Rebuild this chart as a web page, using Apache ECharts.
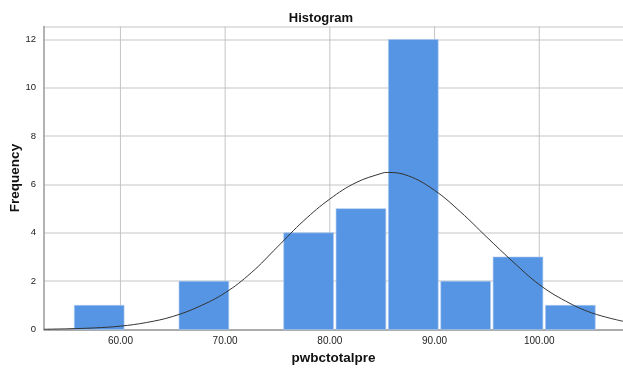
<!DOCTYPE html>
<html>
<head>
<meta charset="utf-8">
<script src="https://cdn.jsdelivr.net/npm/echarts@6/dist/echarts.min.js"></script>
<style>html,body{margin:0;padding:0;background:#fff}#c{width:623px;height:370px}</style>
</head>
<body>
<div id="c"></div>
<script>
// Histogram bins (start value of each 5-wide bin) and frequencies
const binStarts = [55.5, 60.5, 65.5, 70.5, 75.5, 80.5, 85.5, 90.5, 95.5, 100.5];
const binWidth = 5;
const counts = [1, 0, 2, 0, 4, 5, 12, 2, 3, 1];
// Normal curve points
const curveX = [52.7, 55, 57.5, 60, 62.5, 65, 67.5, 70, 72.5, 75, 77.5, 80, 82.5, 85, 85.5, 87.5, 90, 92.5, 95, 97.5, 100, 102.5, 105, 108];
const curveY = [0.01, 0.03, 0.065, 0.14, 0.29, 0.54, 0.95, 1.52, 2.35, 3.42, 4.5, 5.4, 6.08, 6.47, 6.5, 6.36, 5.76, 4.86, 3.82, 2.8, 1.86, 1.18, 0.69, 0.34];
const xTicks = [60, 70, 80, 90, 100];

const font = "'Liberation Sans', Arial, sans-serif";
const chart = echarts.init(document.getElementById('c'), null, {renderer: 'canvas'});
chart.setOption({
  animation: false,
  title: {
    text: 'Histogram', left: 316, top: 7, textAlign: 'center',
    textStyle: {fontFamily: font, fontSize: 13, fontWeight: 'bold', color: '#111'}
  },
  grid: {left: 44, right: 0, top: 26.5, bottom: 40.5, containLabel: false, outerBoundsMode: 'none'},
  xAxis: {
    type: 'value', min: 52.7, max: 108,
    name: 'pwbctotalpre', nameLocation: 'middle', nameGap: 22, nameMoveOverlap: false,
    nameTextStyle: {fontFamily: font, fontSize: 13.5, fontWeight: 'bold', color: '#111'},
    axisLine: {show: true, lineStyle: {color: '#9a9a9a', width: 1.5}},
    axisTick: {show: false},
    axisLabel: {
      fontFamily: font, fontSize: 10, color: '#222', margin: 7,
      customValues: xTicks,
      formatter: v => v.toFixed(2)
    },
    splitLine: {show: false}
  },
  yAxis: {
    type: 'value', min: 0, max: 12.54, interval: 2,
    name: 'Frequency', nameLocation: 'middle', nameGap: 22, nameRotate: 90, nameMoveOverlap: false,
    nameTextStyle: {fontFamily: font, fontSize: 13.5, fontWeight: 'bold', color: '#111'},
    axisLine: {show: true, lineStyle: {color: '#9a9a9a', width: 1.5}},
    axisTick: {show: false},
    axisLabel: {fontFamily: font, fontSize: 9.5, color: '#222', margin: 8,
      showMaxLabel: false,
      formatter: v => (v % 2 === 0 ? String(v) : '')},
    splitLine: {show: true, lineStyle: {color: '#d8d8d8', width: 1.5}}
  },
  series: [
    {
      type: 'custom',
      silent: true,
      z: 2,
      data: xTicks.map(v => [v]),
      renderItem: function (params, api) {
        const x = api.coord([api.value(0), 0])[0];
        const cs = params.coordSys;
        return {
          type: 'line',
          shape: {x1: x, y1: cs.y, x2: x, y2: cs.y + cs.height},
          style: {stroke: '#c4c4c4', lineWidth: 1}
        };
      }
    },
    {
      type: 'custom',
      z: 3,
      data: binStarts.map((s, i) => [s, s + binWidth, counts[i]]),
      renderItem: function (params, api) {
        const c = api.value(2);
        if (!c) return null;
        const p0 = api.coord([api.value(0), c]);
        const p1 = api.coord([api.value(1), 0]);
        return {
          type: 'rect',
          shape: {x: p0[0] + 1, y: p0[1], width: p1[0] - p0[0] - 2.6, height: p1[1] - p0[1]},
          style: {fill: '#5695e3', stroke: '#a9c8f0', lineWidth: 0.6}
        };
      }
    },
    {
      type: 'line',
      z: 4,
      smooth: 0.4,
      symbol: 'none',
      data: curveX.map((x, i) => [x, curveY[i]]),
      lineStyle: {color: '#333', width: 1}
    }
  ]
});
</script>
</body>
</html>
